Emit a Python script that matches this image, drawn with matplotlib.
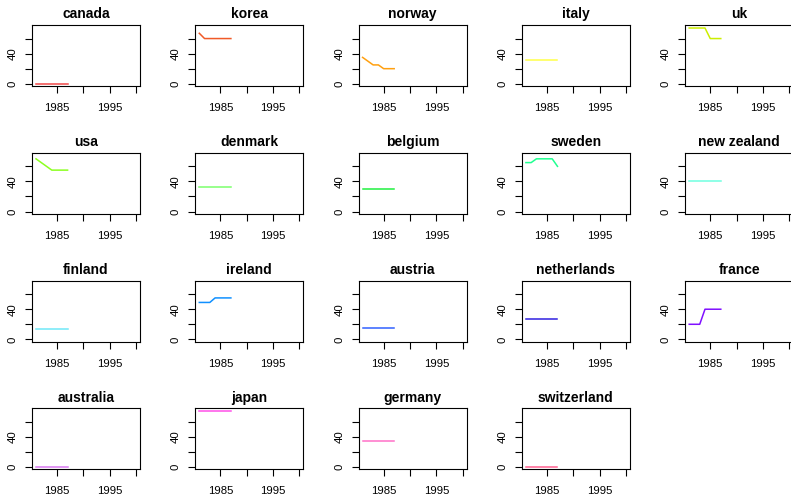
import matplotlib
matplotlib.use("Agg")
import matplotlib.pyplot as plt

plt.rcParams['font.family'] = ['Liberation Sans', 'DejaVu Sans']

years = [1981, 1982, 1983, 1984, 1985, 1986, 1987]
countries = ["canada", "korea", "norway", "italy", "uk",
             "usa", "denmark", "belgium", "sweden", "new zealand",
             "finland", "ireland", "austria", "netherlands", "france",
             "australia", "japan", "germany", "switzerland"]
values = {
    "canada":      [0, 0, 0, 0, 0, 0, 0],
    "korea":       [67, 60, 60, 60, 60, 60, 60],
    "norway":      [35, 30, 25, 25, 20, 20, 20],
    "italy":       [31, 31, 31, 31, 31, 31, 31],
    "uk":          [74, 74, 74, 74, 60, 60, 60],
    "usa":         [70, 65, 60, 55, 55, 55, 55],
    "denmark":     [32, 32, 32, 32, 32, 32, 32],
    "belgium":     [30, 30, 30, 30, 30, 30, 30],
    "sweden":      [65, 65, 70, 70, 70, 70, 60],
    "new zealand": [40, 40, 40, 40, 40, 40, 40],
    "finland":     [14, 14, 14, 14, 14, 14, 14],
    "ireland":     [49, 49, 49, 55, 55, 55, 55],
    "austria":     [15, 15, 15, 15, 15, 15, 15],
    "netherlands": [27, 27, 27, 27, 27, 27, 27],
    "france":      [20, 20, 20, 40, 40, 40, 40],
    "australia":   [0, 0, 0, 0, 0, 0, 0],
    "japan":       [75, 75, 75, 75, 75, 75, 75],
    "germany":     [35, 35, 35, 35, 35, 35, 35],
    "switzerland": [0, 0, 0, 0, 0, 0, 0],
}
colors = ["#F04848", "#F05A28", "#FFA010", "#FFFF48", "#CCEE00",
          "#8CFF20", "#7CFF6C", "#20F040", "#20FF90", "#70FFE0",
          "#70E8F8", "#1090FF", "#3060FF", "#3020E0", "#8010FF",
          "#D878F0", "#FF50E8", "#FF70C8", "#FF6090"]

x_range = (1981, 2000)
y_range = (0, 75)
x_ticks = [1985, 1990, 1995, 2000]
x_labels = ["1985", "", "1995", ""]
y_ticks = [0, 20, 40, 60]
y_labels = ["0", "", "40", ""]

W, H = 791, 495
fig = plt.figure(figsize=(W / 100, H / 100), dpi=100)

ncol = 5
col_step, row_step = 163.3, 127.8
left0, top0 = 32, 25
bw, bh = 108, 61

def ext(r):
    d = (r[1] - r[0]) * 0.04
    return (r[0] - d, r[1] + d)

for i, name in enumerate(countries):
    r, c = divmod(i, ncol)
    left = left0 + col_step * c
    top = top0 + row_step * r
    ax = fig.add_axes([left / W, 1 - (top + bh) / H, bw / W, bh / H])
    ax.plot(years, values[name], color=colors[i], lw=1.1)
    ax.set_xlim(*ext(x_range))
    ax.set_ylim(*ext(y_range))
    ax.set_xticks(x_ticks)
    ax.set_xticklabels(x_labels)
    ax.set_yticks(y_ticks)
    ax.set_yticklabels(y_labels, rotation=90, va='center')
    ax.tick_params(axis='both', direction='out', length=4.8, width=0.8,
                   labelsize=8.2, colors='black')
    ax.tick_params(axis='x', pad=7.5)
    ax.tick_params(axis='y', pad=5.5)
    for s in ax.spines.values():
        s.set_linewidth(0.8)
        s.set_color('black')
    ax.set_title(name, fontsize=10, fontweight='bold', pad=4.8)

fig.savefig("out.png", dpi=100)
